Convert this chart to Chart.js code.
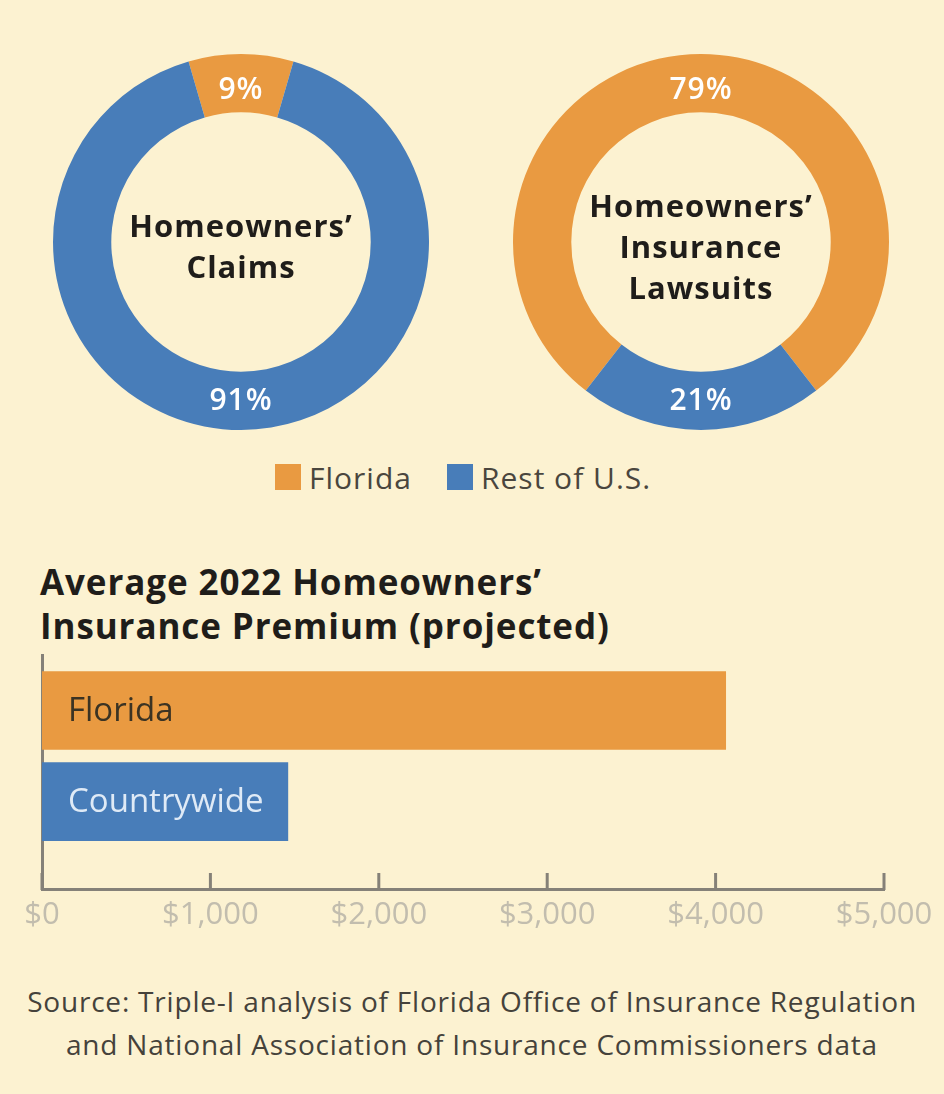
<!DOCTYPE html>
<html>
<head>
<meta charset="utf-8">
<script src="https://cdn.jsdelivr.net/npm/chart.js@4.4.1/dist/chart.umd.min.js"></script>
<style>
  html, body { margin: 0; padding: 0; }
  body {
    width: 944px; height: 1094px; position: relative; overflow: hidden;
    background: #fcf2d1; font-family: 'Open Sans', sans-serif; color: #3d3a33;
  }
  .box { position: absolute; }
  .legend {
    position: absolute; top: 462px; left: 275px; height: 30px;
    display: flex; align-items: center;
    font-size: 30px; letter-spacing: 1px; color: #4a463e; white-space: nowrap;
  }
  .legend span.sw { display: inline-block; width: 26px; height: 26px; margin-right: 8px; }
  .legend span.item { display: flex; align-items: center; margin-right: 35px; }
  .title {
    position: absolute; left: 40px; top: 560px; font-weight: 700;
    font-size: 35px; line-height: 44px; letter-spacing: 0.9px; color: #1f1d1a;
  }
  .source {
    position: absolute; left: 0; top: 980px; width: 944px; text-align: center;
    font-size: 28px; line-height: 43px; letter-spacing: 0.8px; color: #45423b;
  }
</style>
</head>
<body>

<div class="box" style="left:53px; top:54px; width:376px; height:376px;"><canvas id="claims"></canvas></div>
<div class="box" style="left:513px; top:54px; width:376px; height:376px;"><canvas id="lawsuits"></canvas></div>

<div class="legend" id="legend"></div>

<div class="title">Average 2022 Homeowners’<br>Insurance Premium (projected)</div>

<div class="box" style="left:0; top:640px; width:944px; height:292px;"><canvas id="premium"></canvas></div>

<div class="source">Source: Triple-I analysis of Florida Office of Insurance Regulation<br>and National Association of Insurance Commissioners data</div>

<script>
// couleurs et données
const ORANGE = "#e99a41";
const BLUE = "#487db9";

const regions = ["Florida", "Rest of U.S."];
const regionColors = [ORANGE, BLUE];

const claimsShare = [9, 91];
const lawsuitsShare = [79, 21];
const claimsCenter = ["Homeowners’", "Claims"];
const lawsuitsCenter = ["Homeowners’", "Insurance", "Lawsuits"];

const premiumLabels = ["Florida", "Countrywide"];
const premiumValues = [4060, 1460];
const premiumLabelColors = ["#3b3323", "#dfeaf6"];
const premiumMax = 5000;
const premiumStep = 1000;

Chart.defaults.font.family = "'Open Sans', sans-serif";
Chart.defaults.animation = false;

// legende commune (html)
const legendEl = document.getElementById("legend");
regions.forEach((r, i) => {
  const item = document.createElement("span");
  item.className = "item";
  item.innerHTML = '<span class="sw" style="background:' + regionColors[i] + '"></span>' + r;
  legendEl.appendChild(item);
});

// texte au centre + pourcentages sur les arcs
const donutText = {
  id: "donutText",
  afterDatasetsDraw(chart, args, opts) {
    const ctx = chart.ctx;
    const meta = chart.getDatasetMeta(0);
    const values = chart.data.datasets[0].data;
    const cx = meta.data[0].x, cy = meta.data[0].y;
    ctx.save();
    ctx.fillStyle = "#ffffff";
    ctx.font = "600 30px 'Open Sans'";
    ctx.letterSpacing = "1px";
    ctx.textAlign = "center";
    ctx.textBaseline = "middle";
    meta.data.forEach((arc, i) => {
      const p = arc.getCenterPoint();
      // un peu vers le centre, comme sur l'original
      const dx = p.x - cx, dy = p.y - cy;
      const d = Math.hypot(dx, dy) || 1;
      const k = (d - 3) / d;
      ctx.fillText(values[i] + "%", cx + dx * k, cy + dy * k + 4);
    });
    const lines = opts.lines || [];
    const lh = 41;
    ctx.fillStyle = "#1f1d1a";
    ctx.font = "700 31px 'Open Sans'";
    ctx.letterSpacing = "1px";
    const startY = cy + 7 - (lines.length - 1) * lh / 2;
    lines.forEach((t, i) => ctx.fillText(t, cx, startY + i * lh));
    ctx.restore();
  }
};

function makeDonut(id, values, centerLines) {
  // tranche Florida centrée en haut
  const rotation = -(values[0] / 100) * 360 / 2;
  return new Chart(document.getElementById(id), {
    type: "doughnut",
    data: {
      labels: regions,
      datasets: [{
        data: values,
        backgroundColor: regionColors,
        borderWidth: 0,
        hoverOffset: 0,
      }],
    },
    options: {
      responsive: true,
      maintainAspectRatio: false,
      rotation: rotation,
      cutout: "69%",
      layout: { padding: 0 },
      plugins: {
        legend: { display: false },
        tooltip: { enabled: false },
        donutText: { lines: centerLines },
      },
    },
    plugins: [donutText],
  });
}

makeDonut("claims", claimsShare, claimsCenter);
makeDonut("lawsuits", lawsuitsShare, lawsuitsCenter);

// graduations vers le haut + libellés dans les barres
const barExtras = {
  id: "barExtras",
  afterDatasetsDraw(chart) {
    const ctx = chart.ctx;
    const xs = chart.scales.x;
    ctx.save();
    ctx.strokeStyle = "#858178";
    ctx.lineWidth = 3;
    xs.ticks.forEach((t) => {
      const px = xs.getPixelForValue(t.value);
      ctx.beginPath();
      ctx.moveTo(px, xs.top + 1);
      ctx.lineTo(px, xs.top - 16);
      ctx.stroke();
    });
    ctx.font = "400 33px 'Open Sans'";
    ctx.textAlign = "left";
    ctx.textBaseline = "middle";
    chart.getDatasetMeta(0).data.forEach((bar, i) => {
      ctx.fillStyle = premiumLabelColors[i];
      ctx.fillText(premiumLabels[i], chart.chartArea.left + 26, bar.y + 1);
    });
    ctx.restore();
  }
};

new Chart(document.getElementById("premium"), {
  type: "bar",
  data: {
    datasets: [{
      data: premiumValues.map((v, i) => ({ x: v, y: i })),
      backgroundColor: [ORANGE, BLUE],
      borderWidth: 0,
      barThickness: 78,
    }],
  },
  options: {
    indexAxis: "y",
    responsive: true,
    maintainAspectRatio: false,
    layout: { padding: { left: 42, right: 60, top: 15, bottom: 0 } },
    scales: {
      x: {
        type: "linear",
        min: 0,
        max: premiumMax,
        grid: { display: false, drawTicks: false },
        border: { display: true, color: "#858178", width: 3 },
        ticks: {
          stepSize: premiumStep,
          padding: 8,
          color: "#c2bdae",
          font: { size: 31 },
          callback: (v) => "$" + v.toLocaleString("en-US"),
        },
        afterFit: (s) => { s.height = 43; },
      },
      y: {
        type: "linear",
        reverse: true,
        offset: false,
        min: -0.61,
        max: 1.96,
        grid: { display: false, drawTicks: false },
        border: { display: true, color: "#858178", width: 3 },
        ticks: { display: false },
        afterFit: (s) => { s.width = 0; },
      },
    },
    plugins: {
      legend: { display: false },
      tooltip: { enabled: false },
    },
  },
  plugins: [barExtras],
});
</script>
</body>
</html>
